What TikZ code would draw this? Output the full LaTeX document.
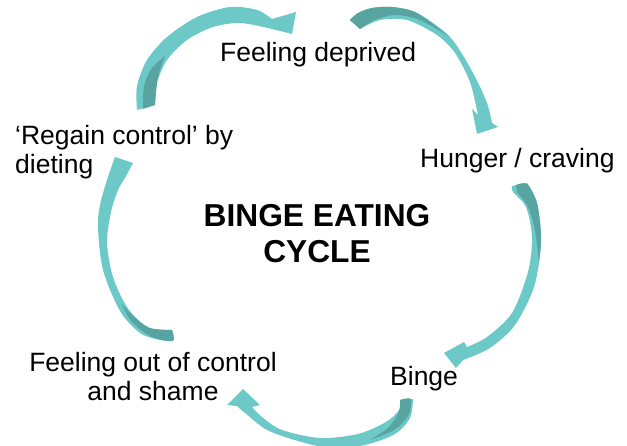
\documentclass[tikz,border=0pt]{standalone}
\usepackage{fontspec}
\setmainfont{Liberation Sans}
\definecolor{tealL}{RGB}{108,201,200}
\definecolor{tealD}{RGB}{88,164,161}
\begin{document}
\begin{tikzpicture}[x=1pt,y=-1pt,
  lbl/.style={inner sep=0pt,font=\fontsize{26.5}{29.5}\selectfont},
  ttl/.style={inner sep=0pt,align=center,font=\fontsize{31.7}{36}\selectfont\bfseries},
  ribbon/.style={fill=tealL},
  back/.style={fill=tealD}]
\useasboundingbox (0,0) rectangle (627,446);
% arrow 1: Regain -> Feeling deprived
\fill[ribbon] plot[smooth] coordinates {(137,110) (137,86) (147,60) (167,37) (197,17) (230,7) (257,10) (272,19)}
  -- (296,12) -- (292,34) -- (268,28)
  -- plot[smooth] coordinates {(268,28) (240,23) (213,27) (187,40) (167,60) (157,83) (155,105)} -- cycle;
\fill[back] plot[smooth] coordinates {(143,109) (144,86) (152,68) (165,56)}
  -- plot[smooth] coordinates {(165,56) (160,70) (157,83) (155,105)} -- cycle;
% arrow 2: Feeling deprived -> Hunger
\fill[ribbon] plot[smooth] coordinates {(350,20) (358,13) (372,8) (392,7) (417,13) (450,37) (473,73) (487,103) (492,123)}
  -- (498,127) -- (477,134) -- (472,109) -- (478,115)
  -- plot[smooth] coordinates {(478,115) (470,82) (455,53) (437,35) (407,20) (380,20) (360,29)} -- cycle;
\fill[back] plot[smooth] coordinates {(350,20) (358,13) (372,8) (392,7) (417,13) (450,37)}
  -- plot[smooth] coordinates {(450,37) (420,20) (395,15) (375,20) (360,29)} -- cycle;
% arrow 3: Hunger -> Binge
\fill[ribbon] plot[smooth] coordinates {(527,183) (537,203) (541,243) (534,287) (515,325) (490,348) (463,360)}
  -- (456,368) -- (444,353) -- (464,342) -- (467,347)
  -- plot[smooth] coordinates {(467,347) (487,337) (512,313) (528,272) (532,237) (526,207) (513,192) (512,186)} -- cycle;
\fill[back] plot[smooth] coordinates {(516,185) (527,184) (537,203) (541,235) (539,262)}
  -- plot[smooth] coordinates {(539,262) (535,230) (528,207) (517,192)} -- cycle;
% arrow 4: Binge -> Feeling out of control
\fill[ribbon] plot[smooth] coordinates {(413,399) (410,418) (395,434) (365,445) (330,448) (298,441) (267,430) (245,413) (237,406)}
  -- (227,405) -- (243,389) -- (260,405) -- (252,407)
  -- plot[smooth] coordinates {(252,407) (262,417) (282,430) (320,438) (358,434) (386,422) (399,410) (400,400)} -- cycle;
\fill[back] plot[smooth] coordinates {(400,400) (411,399) (408,416) (394,430) (370,440)}
  -- plot[smooth] coordinates {(370,440) (388,428) (399,412) (400,400)} -- cycle;
% arrow 5: Feeling out of control -> Regain
\fill[ribbon] plot[smooth] coordinates {(173,341) (160,340) (140,333) (120,311) (103,270) (98,228) (100,205) (107,180) (115,157)}
  -- (133,163) -- (125,178)
  -- plot[smooth] coordinates {(125,178) (118,190) (111,212) (107,243) (113,277) (127,307) (147,327) (172,330)} -- cycle;
\fill[back] plot[smooth] coordinates {(172,330) (173,341) (152,337) (132,322) (121,303)}
  -- plot[smooth] coordinates {(121,303) (132,315) (150,328) (172,330)} -- cycle;
% labels
\node[lbl,anchor=base west] (fd) at (220,62) {Feeling deprived};
\node[lbl,anchor=base west] (hc) at (420,168) {Hunger / craving};
\node[lbl,anchor=base west] (bg) at (390,386) {Binge};
\node[lbl,anchor=north west,align=left] (rc) at (15,125) {‘Regain control’ by\\dieting};
\node[lbl,anchor=north,align=center] (fo) at (153,352) {Feeling out of control\\and shame};
\node[ttl,anchor=north] (ti) at (317,204) {BINGE EATING\\CYCLE};
\end{tikzpicture}
\end{document}
